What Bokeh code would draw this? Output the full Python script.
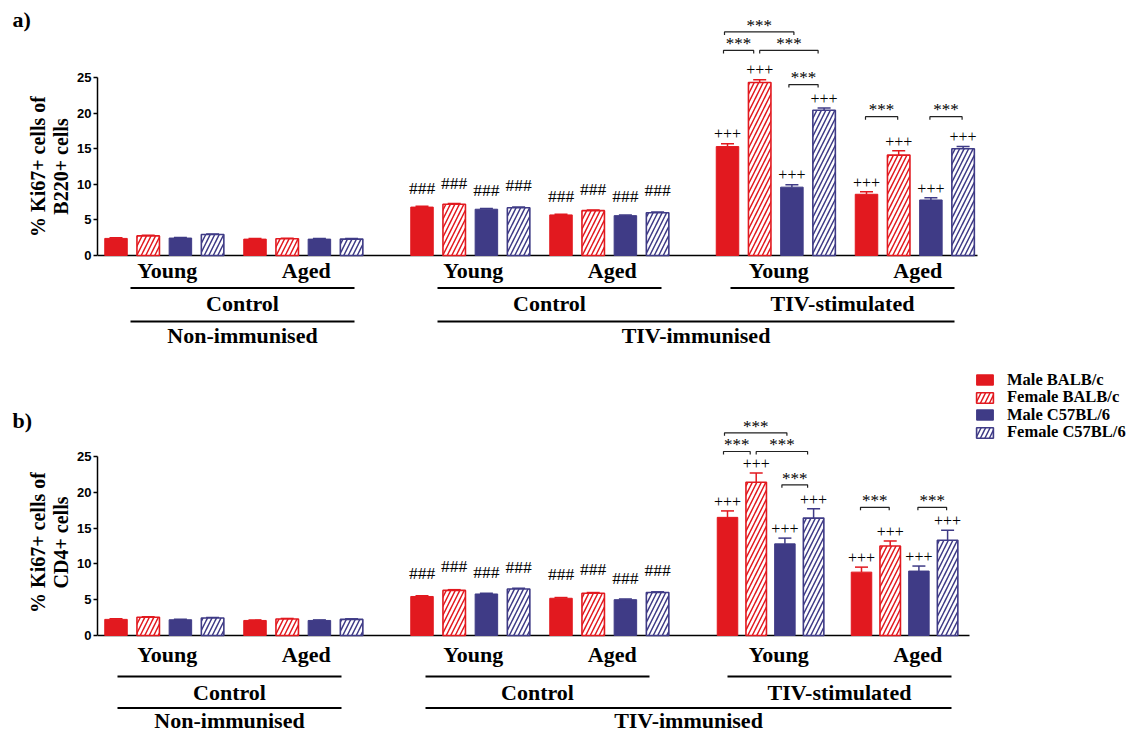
import math
from bokeh.plotting import figure
from bokeh.models import Range1d, FixedTicker, Legend, LegendItem, ColumnDataSource
from bokeh.layouts import column, row
from bokeh.embed import file_html
from bokeh.resources import INLINE
from bokeh.core.properties import value

# ---------------- data ----------------
SERIES = ["Male BALB/c", "Female BALB/c", "Male C57BL/6", "Female C57BL/6"]
AGE_LABELS = ["Young", "Aged", "Young", "Aged", "Young", "Aged"]
TREATMENT_LABELS = ["Control", "Control", "TIV-stimulated"]
IMMUNISATION_LABELS = ["Non-immunised", "TIV-immunised"]
GROUP_MARKS = ["", "", "###", "###", "+++", "+++"]
Y_TICKS = [0, 5, 10, 15, 20, 25]

# groups: NI-Control-Young, NI-Control-Aged, TIV-Control-Young, TIV-Control-Aged, TIV-Stim-Young, TIV-Stim-Aged
# panel a) % Ki67+ cells of B220+ cells
a_male_balb = [2.4, 2.3, 6.8, 5.7, 15.3, 8.6]
a_female_balb = [2.75, 2.35, 7.2, 6.3, 24.3, 14.1]
a_male_c57 = [2.45, 2.3, 6.5, 5.6, 9.6, 7.8]
a_female_c57 = [2.95, 2.3, 6.7, 6.0, 20.4, 15.0]
a_err_male_balb = [0.08, 0.08, 0.1, 0.1, 0.4, 0.35]
a_err_female_balb = [0.08, 0.08, 0.1, 0.1, 0.4, 0.6]
a_err_male_c57 = [0.08, 0.08, 0.1, 0.1, 0.35, 0.3]
a_err_female_c57 = [0.08, 0.08, 0.1, 0.1, 0.3, 0.3]

# panel b) % Ki67+ cells of CD4+ cells
b_male_balb = [2.25, 2.1, 5.45, 5.2, 16.5, 8.85]
b_female_balb = [2.55, 2.3, 6.3, 5.9, 21.4, 12.5]
b_male_c57 = [2.2, 2.1, 5.8, 5.0, 12.8, 9.0]
b_female_c57 = [2.45, 2.25, 6.5, 6.0, 16.4, 13.3]
b_err_male_balb = [0.08, 0.08, 0.1, 0.1, 0.9, 0.7]
b_err_female_balb = [0.08, 0.08, 0.1, 0.1, 1.3, 0.7]
b_err_male_c57 = [0.08, 0.08, 0.1, 0.1, 0.8, 0.7]
b_err_female_c57 = [0.08, 0.08, 0.1, 0.1, 1.3, 1.4]

# significance brackets: (group, series i, series j, bracket height)
a_brackets = [(4, 0, 2, 31.4), (4, 0, 1, 28.8), (4, 1, 3, 28.8), (4, 2, 3, 24.0), (5, 0, 1, 19.5), (5, 2, 3, 19.5)]
b_brackets = [(4, 0, 2, 28.3), (4, 0, 1, 25.7), (4, 1, 3, 25.7), (4, 2, 3, 21.05), (5, 0, 1, 17.9), (5, 2, 3, 17.9)]

# ---------------- style / layout ----------------
RED = "#E2191F"
BLUE = "#3F3B86"
COLORS = [RED, RED, BLUE, BLUE]
HATCHED = [False, True, False, True]
SERIF = "Liberation Serif"
SANS = "Liberation Sans"
SHIFT_EM = 0.36        # compensation: rendered text sits this much (in em) below the requested baseline

PAGE_W = 1147
LEFT_W = 72            # strip holding panel tag and y-axis title
AXIS_X = 97            # x of the y axis
X_HI = 1147
SET_START = [115.5, 421.5, 727]
LABEL_STEP = 32.2
LABEL_AGED_OFF = 139
LINE_LEN = 224
CAP = 6.5
BRACKET_DX = [(-3, 2), (-4, -6), (0, -6), (-3, -6), (-1, -1), (-1, -1)]
LEGEND_ROWS = [379.0, 396.5, 414.0, 431.5]   # swatch centres (page px)

PANEL_A = dict(top=0, bottom=360, base=255, ppu=7.12,
               steps=[32.2, 32.2, 32.2], widths=[22.5, 22.5, 22.5], aged=[139, 139, 139],
               line_start=[130, 437, 730], baseline_end=977,
               off=dict(group=23, line1=32.5, level2=56, line2=66, level3=88),
               hash_off=[19, 21, 19, 22.5],
               ylabel=("% Ki67+ cells of", "B220+ cells"), ylabel_y=166, ylabel_x=(44.5, 68),
               tag="a)", tag_y=27)
PANEL_B = dict(top=360, bottom=733, base=635, ppu=7.16,
               steps=[32.2, 32.2, 28.7], widths=[22.5, 22.5, 20.5], aged=[139, 139, 134],
               line_start=[117, 425, 727], baseline_end=969,
               off=dict(group=27, line1=41, level2=64.5, line2=72.5, level3=92.5),
               hash_off=[23.5, 23.5, 21.5, 22],
               ylabel=("% Ki67+ cells of", "CD4+ cells"), ylabel_y=542, ylabel_x=(44.5, 68),
               tag="b)", tag_y=428)


def build_panel(cfg, vals, errs, brackets, with_legend):
    ppu = cfg["ppu"]
    base = cfg["base"]
    height = cfg["bottom"] - cfg["top"]
    y_lo = (base - cfg["bottom"]) / ppu
    y_hi = (base - cfg["top"]) / ppu

    def px(d):  # pixel distance -> data units
        return d / ppu

    def fix(fs):  # baseline compensation in data units for font size fs (px)
        return px(SHIFT_EM * fs)

    # ---- left strip: panel tag and two-line y-axis title ----
    side = figure(width=LEFT_W, height=height, x_range=Range1d(0, LEFT_W), y_range=Range1d(y_lo, y_hi),
                  output_backend="svg", toolbar_location=None, x_axis_location=None, y_axis_location=None,
                  min_border_left=0, min_border_right=0, min_border_top=0, min_border_bottom=0)
    side.outline_line_color = None
    side.xgrid.visible = False
    side.ygrid.visible = False
    side.text(x=[x - SHIFT_EM * 20 for x in cfg["ylabel_x"]], y=[(base - cfg["ylabel_y"]) / ppu] * 2,
              text=list(cfg["ylabel"]), angle=math.pi / 2,
              text_font=value(SERIF), text_font_style="bold", text_font_size="20px",
              text_align="center", text_baseline="alphabetic", text_color="black")
    side.text(x=[12], y=[(base - cfg["tag_y"]) / ppu + fix(22)], text=[cfg["tag"]],
              text_font=value(SERIF), text_font_style="bold", text_font_size="22px",
              text_align="left", text_baseline="alphabetic", text_color="black")

    # ---- main plot ----
    p = figure(width=PAGE_W - LEFT_W, height=height,
               x_range=Range1d(AXIS_X, X_HI), y_range=Range1d(y_lo, y_hi),
               output_backend="svg", toolbar_location=None, x_axis_location=None,
               min_border_left=AXIS_X - LEFT_W, min_border_right=0, min_border_top=0, min_border_bottom=0)
    p.outline_line_color = None
    p.xgrid.visible = False
    p.ygrid.visible = False
    ax = p.yaxis[0]
    ax.bounds = (0, 25)
    ax.ticker = FixedTicker(ticks=Y_TICKS)
    ax.minor_tick_line_color = None
    ax.major_tick_in = 0
    ax.major_tick_out = 4
    ax.major_label_standoff = 2
    ax.axis_line_width = 1.5
    ax.axis_line_color = "black"
    ax.major_tick_line_width = 1.5
    ax.major_tick_line_color = "black"
    ax.major_label_text_font = SANS
    ax.major_label_text_font_style = "bold"
    ax.major_label_text_font_size = "13px"
    ax.major_label_text_color = "black"

    def centre(g, s):
        k, a = divmod(g, 2)
        return SET_START[k] + a * cfg["aged"][k] + s * cfg["steps"][k]

    # baseline (x axis line)
    p.segment(x0=[AXIS_X], y0=[0], x1=[cfg["baseline_end"]], y1=[0], line_color="black", line_width=1.5)

    bar_renderers = []
    for s in range(4):
        xs = [centre(g, s) for g in range(6)]
        ws = [cfg["widths"][g // 2] for g in range(6)]
        tops = vals[s]
        caps = [t + e for t, e in zip(tops, errs[s])]
        src = ColumnDataSource(dict(x=xs, top=tops, w=ws, cap=caps,
                                    cl=[x - CAP for x in xs], cr=[x + CAP for x in xs]))
        p.segment(x0="x", y0="top", x1="x", y1="cap", source=src, line_color=COLORS[s], line_width=1.5)
        p.segment(x0="cl", y0="cap", x1="cr", y1="cap", source=src, line_color=COLORS[s], line_width=1.5)
        if HATCHED[s]:
            r = p.vbar(x="x", top="top", width="w", bottom=0, source=src,
                       fill_color="white", line_color=COLORS[s], line_width=1.6,
                       hatch_pattern="/", hatch_color=COLORS[s], hatch_scale=9, hatch_weight=1.5)
        else:
            r = p.vbar(x="x", top="top", width="w", bottom=0, source=src,
                       fill_color=COLORS[s], line_color=COLORS[s], line_width=1)
        bar_renderers.append(r)

        # ### (vs non-immunised) and +++ (vs control) marks
        hx = [xs[g] for g in range(6) if GROUP_MARKS[g] == "###"]
        hy = [tops[g] + px(cfg["hash_off"][s] - 5.9) + fix(17.5) for g in range(6) if GROUP_MARKS[g] == "###"]
        p.text(x=hx, y=hy, text=["###"] * len(hx),
               text_font=value(SERIF), text_font_size="17.5px", text_align="center",
               text_baseline="alphabetic", text_color="black")
        qx = [xs[g] for g in range(6) if GROUP_MARKS[g] == "+++"]
        qy = [caps[g] + px(4.0) + fix(16) for g in range(6) if GROUP_MARKS[g] == "+++"]
        p.text(x=qx, y=qy, text=["+++"] * len(qx),
               text_font=value(SERIF), text_font_size="16px", text_align="center",
               text_baseline="alphabetic", text_color="black")

    # significance brackets
    tick = px(3.0)
    for (g, i, j, h), (d1, d2) in zip(brackets, BRACKET_DX):
        x1 = centre(g, i) + d1
        x2 = centre(g, j) + d2
        p.line([x1, x1, x2, x2], [h - tick, h, h, h - tick], line_color="#222222", line_width=1.2)
        p.text(x=[(x1 + x2) / 2], y=[h + px(0.6) + fix(17)], text=["***"],
               text_font=value(SERIF), text_font_size="17px", text_align="center",
               text_baseline="alphabetic", text_color="black")

    # hierarchical category axis below the bars
    off = cfg["off"]
    lines1 = [(st, st + LINE_LEN) for st in cfg["line_start"]]
    lines2 = [lines1[0], (lines1[1][0], lines1[2][1])]
    label_x = [SET_START[g // 2] + (g % 2) * LABEL_AGED_OFF + 1.5 * LABEL_STEP + 3 for g in range(6)]
    tkw = dict(text_font=value(SERIF), text_font_style="bold", text_font_size="22px",
               text_align="center", text_baseline="alphabetic", text_color="black")
    p.text(x=label_x, y=[-px(off["group"]) + fix(22)] * 6, text=AGE_LABELS, **tkw)
    p.segment(x0=[a for a, b in lines1], x1=[b for a, b in lines1],
              y0=[-px(off["line1"])] * 3, y1=[-px(off["line1"])] * 3, line_color="black", line_width=2)
    p.text(x=[(a + b) / 2 for a, b in lines1], y=[-px(off["level2"]) + fix(22)] * 3, text=TREATMENT_LABELS, **tkw)
    p.segment(x0=[a for a, b in lines2], x1=[b for a, b in lines2],
              y0=[-px(off["line2"])] * 2, y1=[-px(off["line2"])] * 2, line_color="black", line_width=2)
    p.text(x=[(a + b) / 2 for a, b in lines2], y=[-px(off["level3"]) + fix(22)] * 2, text=IMMUNISATION_LABELS, **tkw)

    if with_legend:
        for s in range(4):
            leg = Legend(items=[LegendItem(label=SERIES[s], renderers=[bar_renderers[s]])],
                         location=(877, cfg["bottom"] - LEGEND_ROWS[s] - 10.5), orientation="vertical",
                         glyph_width=21, glyph_height=13, label_height=13, label_standoff=12,
                         spacing=0, padding=0, margin=0, border_line_color=None,
                         background_fill_alpha=0,
                         label_text_font=SERIF, label_text_font_style="bold",
                         label_text_font_size="16.5px", label_text_color="black")
            p.add_layout(leg)
    return row(side, p, spacing=0)


row_a = build_panel(PANEL_A,
                    [a_male_balb, a_female_balb, a_male_c57, a_female_c57],
                    [a_err_male_balb, a_err_female_balb, a_err_male_c57, a_err_female_c57],
                    a_brackets, False)
row_b = build_panel(PANEL_B,
                    [b_male_balb, b_female_balb, b_male_c57, b_female_c57],
                    [b_err_male_balb, b_err_female_balb, b_err_male_c57, b_err_female_c57],
                    b_brackets, True)

layout = column(row_a, row_b, spacing=0)
open("out.html", "w").write(file_html(layout, INLINE))
